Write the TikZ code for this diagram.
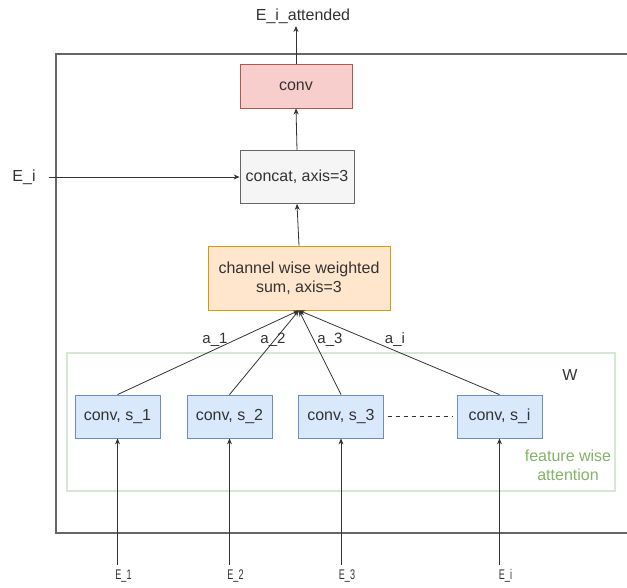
\documentclass[tikz,border=0pt]{standalone}
\usepackage{fontspec}
\setmainfont{Liberation Sans}
\usetikzlibrary{arrows.meta}
\definecolor{pinkf}{HTML}{F8CECC}\definecolor{pinkd}{HTML}{B85450}
\definecolor{grayf}{HTML}{F5F5F5}\definecolor{grayd}{HTML}{666666}
\definecolor{orf}{HTML}{FFE6CC}\definecolor{ord}{HTML}{D79B00}
\definecolor{bluef}{HTML}{DAE8FC}\definecolor{blued}{HTML}{6C8EBF}
\definecolor{greend}{HTML}{D5E8D4}\definecolor{greent}{HTML}{82B366}
\definecolor{txt}{HTML}{333333}
\begin{document}
\begin{tikzpicture}[x=1pt,y=-1pt,
  every node/.style={font=\fontsize{16}{19}\selectfont, text=txt},
  boxbase/.style={draw, line width=0.8pt, inner sep=0pt, align=center},
  convbox/.style={boxbase, fill=bluef, draw=blued, minimum width=85pt, minimum height=43pt},
  arr/.style={draw=txt, line width=0.8pt, -{Stealth[length=6pt,width=5pt]}},
  lbl/.style={font=\fontsize{15}{18}\selectfont},
  inlbl/.style={font=\fontsize{14}{16}\selectfont}]
\useasboundingbox (0,0) rectangle (627,587);
% outer frame
\draw[grayd, line width=1.2pt] (56,54) rectangle (660,533);
% feature wise attention group
\draw[greend, line width=1.2pt] (67,353) rectangle (615,491);
\node (W) at (570,375) {W};
\node[text=greent, align=center] (fwa) at (568,465) {feature wise\\attention};
% main boxes
\node[boxbase, fill=pinkf, draw=pinkd, minimum width=112pt, minimum height=44pt] (conv) at (296,86) {conv};
\node[boxbase, fill=grayf, draw=grayd, minimum width=114pt, minimum height=53pt] (concat) at (297,177) {concat, axis=3};
\node[boxbase, fill=orf, draw=ord, minimum width=182pt, minimum height=64pt] (chan) at (299,278) {channel wise weighted\\sum, axis=3};
\node[convbox] (s1) at (117.5,416.5) {conv, s\_1};
\node[convbox] (s2) at (229.5,416.5) {conv, s\_2};
\node[convbox] (s3) at (341,416.5) {conv, s\_3};
\node[convbox] (si) at (499.5,416.5) {conv, s\_i};
% top output
\coordinate (outc) at (296,26);
\node (out) at (303,16) {E\_i\_attended};
\draw[arr] (conv.north) -- (outc);
\draw[arr] (concat.north) -- (conv.south);
\draw[arr] (chan.north) -- (concat.south);
% E_i side input
\node (ei) at (24,177) {E\_i};
\coordinate (eic) at (49,177);
\draw[arr] (eic) -- (concat.west);
% attention arrows
\draw[arr] (s1.north) -- (chan.south);
\draw[arr] (s2.north) -- (chan.south);
\draw[arr] (s3.north) -- (chan.south);
\draw[arr] (si.north) -- (chan.south);
\node[lbl] (a1) at (215,340) {a\_1};
\node[lbl] (a2) at (273,340) {a\_2};
\node[lbl] (a3) at (330,340) {a\_3};
\node[lbl] (ai) at (395,340) {a\_i};
% dashed
\draw[txt, line width=1pt, dash pattern=on 4pt off 4pt] (s3.east) ++(4,0) -- ([xshift=-4pt]si.west);
% inputs
\foreach \n/\x/\t in {s1/117.5/1, s2/229.5/2, s3/341/3, si/499.5/i}{
  \coordinate (in\n) at (\x,565);
  \draw[arr] (in\n) -- (\n.south);
  \node[inlbl] (E\n) at (\x+6,576) {\scalebox{0.65}[1]{E\_\t}};
}
\end{tikzpicture}
\end{document}
